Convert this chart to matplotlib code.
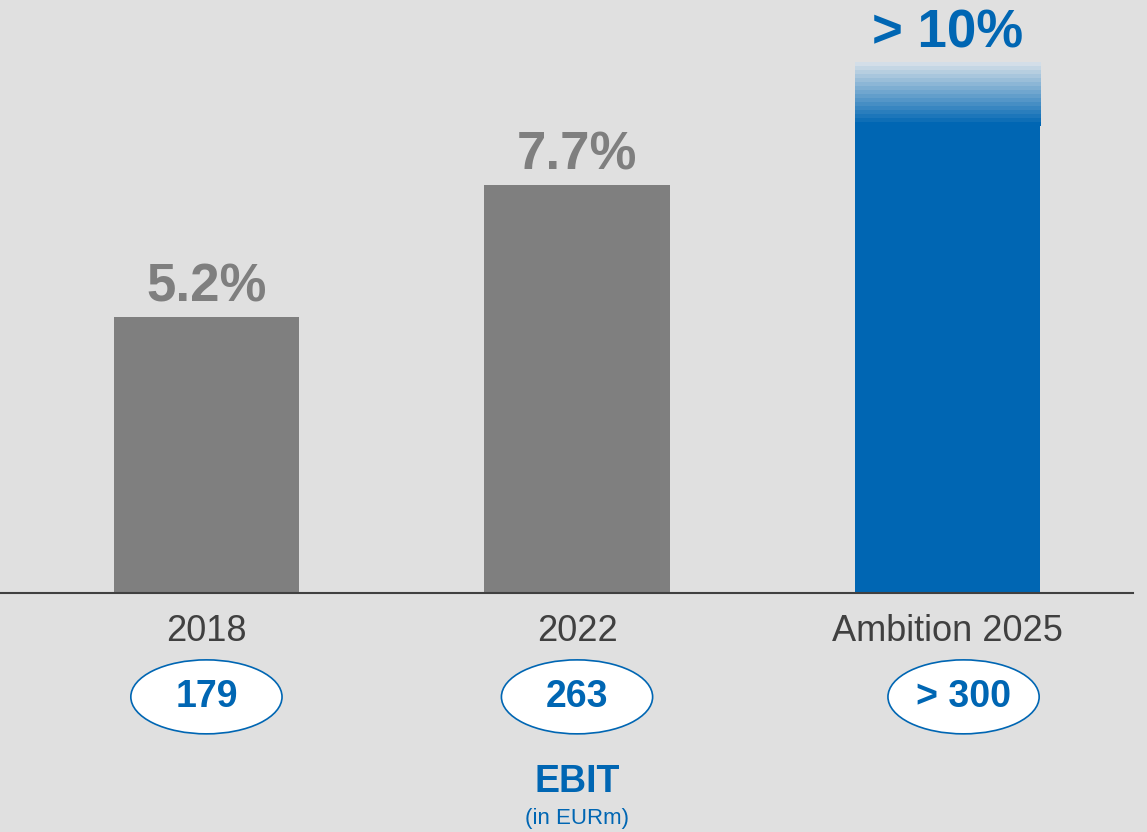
import numpy as np
import matplotlib
matplotlib.use("Agg")
import matplotlib.pyplot as plt
from matplotlib.patches import Ellipse
from matplotlib.colors import to_rgb

plt.rcParams['font.family'] = ['Liberation Sans', 'DejaVu Sans']

categories = ["2018", "2022", "Ambition 2025"]
margins = [5.2, 7.7, 10.0]
margin_labels = ["5.2%", "7.7%", "> 10%"]
ebit_labels = ["179", "263", "> 300"]

BG = "#E0E0E0"
GREY = "#7F7F7F"
BLUE = "#0066B3"
FADE = "#D3DEE8"

fig = plt.figure(figsize=(11.47, 8.32), dpi=100, facecolor=BG)
ax = fig.add_axes([0, 0, 1, 1])
ax.set_facecolor(BG)
ax.set_xlim(-0.557, 2.538)
ax.set_ylim(-4.51, 11.19)
ax.axis("off")

x = np.arange(len(categories))
colors = [GREY, GREY, BLUE]
bars = ax.bar(x, margins, width=0.5, color=colors, zorder=2)

# faded top of the ambition bar
fade_h = 1.19
last = bars[-1]
n = 16
c0 = np.array(to_rgb(FADE))
c1 = np.array(to_rgb(BLUE))
t = np.linspace(0, 1, n)[:, None]
grad = (c0 * (1 - t) + c1 * t)[:, None, :]
ax.add_patch(plt.Rectangle((last.get_x(), margins[-1] - fade_h), last.get_width(),
                           fade_h, color=BG, zorder=3, lw=0))
ax.imshow(grad, extent=[last.get_x(), last.get_x() + last.get_width(),
                        margins[-1] - fade_h, margins[-1]],
          aspect="auto", interpolation="nearest", zorder=4)

ax.plot([-0.557, 2.50], [0, 0], color="#404040", lw=1.5, zorder=5)

label_colors = [GREY, GREY, BLUE]
for xi, v, lab, c in zip(x, margins, margin_labels, label_colors):
    ax.text(xi, v + 0.56, lab, ha="center", va="center", fontsize=38,
            fontweight="bold", color=c)

for xi, cat in zip(x, categories):
    ax.text(xi, -0.72, cat, ha="center", va="center", fontsize=26, color="#404040")

ell_shift = [0, 0, 0.043]
for xi, lab, s in zip(x, ebit_labels, ell_shift):
    ax.add_patch(Ellipse((xi + s, -1.96), 0.408, 1.396, facecolor="white",
                         edgecolor=BLUE, lw=1.2, zorder=5))
    ax.text(xi + s, -1.96, lab, ha="center", va="center", fontsize=27,
            fontweight="bold", color=BLUE, zorder=6)

ax.text(1, -3.57, "EBIT", ha="center", va="center", fontsize=27,
        fontweight="bold", color=BLUE)
ax.text(1, -4.26, "(in EURm)", ha="center", va="center", fontsize=16, color=BLUE)

fig.savefig("out.png", dpi=100, facecolor=BG)
